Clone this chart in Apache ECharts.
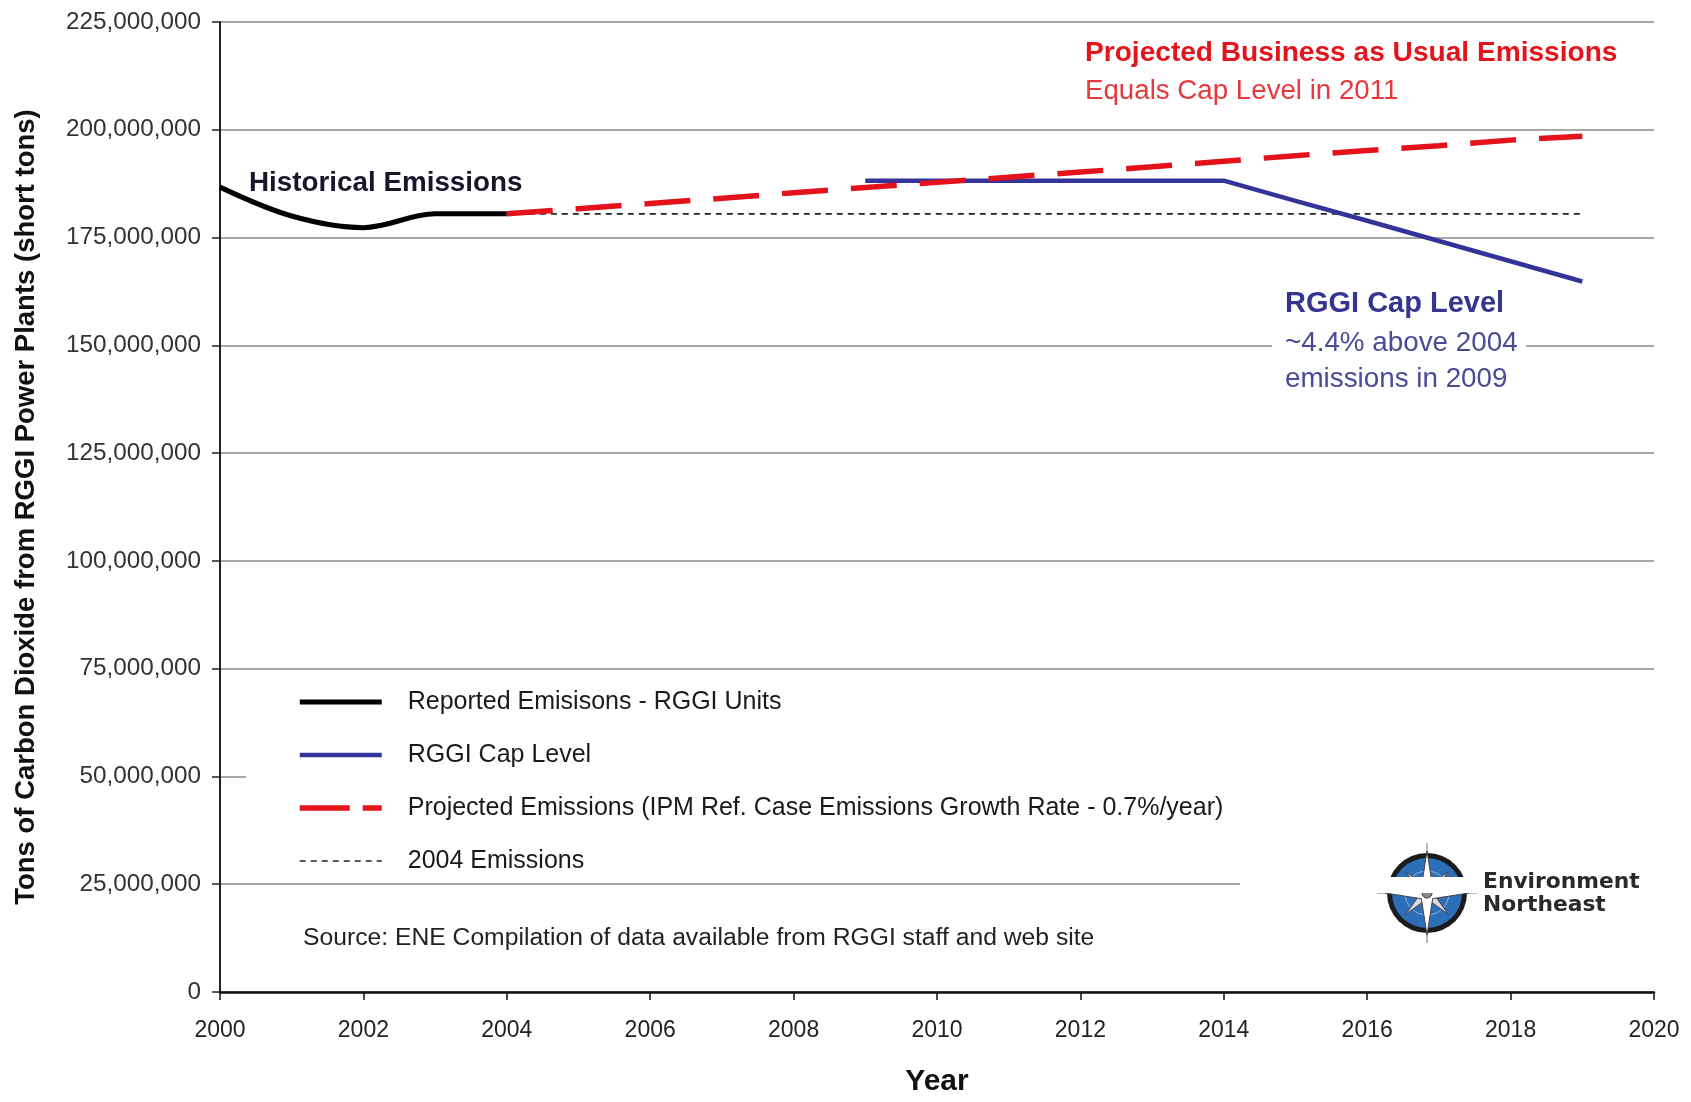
<!DOCTYPE html>
<html>
<head>
<meta charset="utf-8">
<script src="https://cdn.jsdelivr.net/npm/echarts@6/dist/echarts.min.js"></script>
<style>
  html, body { margin: 0; padding: 0; background: #ffffff; }
  #chart { width: 1691px; height: 1102px; }
</style>
</head>
<body>
<div id="chart"></div>
<script>
// ---- Data (million short tons of CO2) ----
const historicalYears = [2000, 2001, 2002, 2003, 2004];
const historicalValues = [186.7, 180.0, 177.3, 180.5, 180.5];

const capYears = [2009, 2010, 2011, 2012, 2013, 2014, 2015, 2016, 2017, 2018, 2019];
const capValues = [188.2, 188.2, 188.2, 188.2, 188.2, 188.2, 183.5, 178.9, 174.2, 169.5, 164.8];

const projYears = [2004, 2005, 2006, 2007, 2008, 2009, 2010, 2011, 2012, 2013, 2014, 2015, 2016, 2017, 2018, 2019];
const projValues = [180.5, 181.7, 182.9, 184.1, 185.4, 186.6, 187.8, 189.0, 190.2, 191.4, 192.7, 194.0, 195.2, 196.3, 197.6, 198.5];

const baseYears = [2004, 2019];
const baseValues = [180.5, 180.5];

const seriesNames = [
  'Reported Emisisons - RGGI Units',
  'RGGI Cap Level',
  'Projected Emissions (IPM Ref. Case Emissions Growth Rate - 0.7%/year)',
  '2004 Emissions'
];

const yTicks = { min: 0, max: 225000000, interval: 25000000 };
const xTicks = { min: 2000, max: 2020, interval: 2 };

const toPairs = (xs, ys) => xs.map((x, i) => [x, ys[i] * 1e6]);
const commas = v => String(Math.round(v)).replace(/\B(?=(\d{3})+(?!\d))/g, ',');

const FONT = '"Liberation Sans", Arial, sans-serif';

// compass star helper (logo decoration)
function starPoints(n, R, r, rot) {
  const pts = [];
  for (let i = 0; i < 2 * n; i++) {
    const a = rot + i * Math.PI / n;
    const rad = i % 2 === 0 ? R : r;
    pts.push([Math.sin(a) * rad, -Math.cos(a) * rad]);
  }
  return pts;
}

const chart = echarts.init(document.getElementById('chart'), null, { renderer: 'canvas' });

const hidden = { opacity: 0 };

const option = {
  animation: false,
  backgroundColor: '#ffffff',
  textStyle: { fontFamily: FONT },
  grid: { left: 220, right: 37, top: 22, bottom: 109, containLabel: false },
  xAxis: {
    type: 'value',
    min: xTicks.min, max: xTicks.max, interval: xTicks.interval,
    name: 'Year',
    nameLocation: 'middle',
    nameGap: 75,
    nameTextStyle: { fontFamily: FONT, fontSize: 30, fontWeight: 'bold', color: '#111' },
    axisLine: { show: true, onZero: false, lineStyle: { color: '#111', width: 2.5 } },
    axisTick: { show: true, inside: false, length: 8, lineStyle: { color: '#111', width: 1.5 } },
    axisLabel: { margin: 27, fontSize: 23, color: '#222', fontFamily: FONT, formatter: v => String(v) },
    splitLine: { show: false }
  },
  yAxis: {
    type: 'value',
    min: yTicks.min, max: yTicks.max, interval: yTicks.interval,
    name: 'Tons of Carbon Dioxide from RGGI Power Plants (short tons)',
    nameLocation: 'middle',
    nameRotate: 90,
    nameGap: 180,
    nameTextStyle: { fontFamily: FONT, fontSize: 27.5, fontWeight: 'bold', color: '#111', padding: [0, 0, 0, 0] },
    axisLine: { show: true, lineStyle: { color: '#222', width: 2 } },
    axisTick: { show: true, inside: false, length: 8, lineStyle: { color: '#222', width: 1.5 } },
    axisLabel: { margin: 19, fontSize: 24.3, color: '#333', fontFamily: FONT, formatter: v => commas(v) },
    splitLine: { show: true, lineStyle: { color: '#8a8a8a', width: 1.5 } }
  },
  legend: {
    show: true,
    orient: 'vertical',
    left: 292,
    top: 683,
    itemWidth: 82,
    itemHeight: 20,
    itemGap: 25,
    selectedMode: false,
    textStyle: { fontFamily: FONT, fontSize: 25, color: '#1a1a1a', lineHeight: 28, padding: [0, 0, 0, 21] },
    data: [
      { name: seriesNames[0], itemStyle: hidden, lineStyle: { width: 5, color: '#000000' } },
      { name: seriesNames[1], itemStyle: hidden, lineStyle: { width: 4.5, color: '#333399' } },
      { name: seriesNames[2], itemStyle: hidden, lineStyle: { width: 5.5, color: '#E3121B', type: [50, 13] } },
      { name: seriesNames[3], itemStyle: hidden, lineStyle: { width: 1.6, color: '#222222', type: [6, 5] } }
    ]
  },
  series: [
    {
      name: seriesNames[0], type: 'line', data: toPairs(historicalYears, historicalValues),
      smooth: 0.35, symbol: 'none', z: 4,
      lineStyle: { color: '#000000', width: 5 }, itemStyle: { color: '#000000' }
    },
    {
      name: seriesNames[1], type: 'line', data: toPairs(capYears, capValues),
      symbol: 'none', z: 3,
      lineStyle: { color: '#333399', width: 4.5 }, itemStyle: { color: '#333399' }
    },
    {
      name: seriesNames[2], type: 'line', data: toPairs(projYears, projValues),
      symbol: 'none', z: 5,
      lineStyle: { color: '#E3121B', width: 5.5, type: [46, 23], cap: 'butt' }, itemStyle: { color: '#E3121B' }
    },
    {
      name: seriesNames[3], type: 'line', data: toPairs(baseYears, baseValues),
      symbol: 'none', z: 2,
      lineStyle: { color: '#222222', width: 1.6, type: [6, 5] }, itemStyle: { color: '#222222' }
    }
  ],
  graphic: [
    // white boxes masking gridlines (legend box, logo box, note box)
    { type: 'rect', z: 1, shape: { x: 246, y: 770, width: 1420, height: 15 }, style: { fill: '#ffffff' } },
    { type: 'rect', z: 1, shape: { x: 1240, y: 877, width: 420, height: 16 }, style: { fill: '#ffffff' } },
    { type: 'rect', z: 1, shape: { x: 1272, y: 336, width: 254, height: 19 }, style: { fill: '#ffffff' } },

    // annotations
    { type: 'text', z: 10, style: { text: 'Historical Emissions', x: 249, y: 183, font: 'bold 27.8px ' + FONT, fill: '#17172b', textAlign: 'left', textVerticalAlign: 'middle' } },
    { type: 'text', z: 10, style: { text: 'Projected Business as Usual Emissions', x: 1085, y: 53, font: 'bold 28.1px ' + FONT, fill: '#E3141B', textAlign: 'left', textVerticalAlign: 'middle' } },
    { type: 'text', z: 10, style: { text: 'Equals Cap Level in 2011', x: 1085, y: 91, font: '27.7px ' + FONT, fill: '#E6393E', textAlign: 'left', textVerticalAlign: 'middle' } },
    { type: 'text', z: 10, style: { text: 'RGGI Cap Level', x: 1285, y: 304, font: 'bold 29px ' + FONT, fill: '#35358f', textAlign: 'left', textVerticalAlign: 'middle' } },
    { type: 'text', z: 10, style: { text: '~4.4% above 2004', x: 1285, y: 343, font: '27.8px ' + FONT, fill: '#4a4a98', textAlign: 'left', textVerticalAlign: 'middle' } },
    { type: 'text', z: 10, style: { text: 'emissions in 2009', x: 1285, y: 379, font: '27.8px ' + FONT, fill: '#4a4a98', textAlign: 'left', textVerticalAlign: 'middle' } },
    { type: 'text', z: 10, style: { text: 'Source: ENE Compilation of data available from RGGI staff and web site', x: 303, y: 938, font: '24.7px ' + FONT, fill: '#222', textAlign: 'left', textVerticalAlign: 'middle' } },

    // Environment Northeast logo
    {
      type: 'group', x: 1427, y: 893, z: 10,
      children: [
        { type: 'circle', shape: { cx: 0, cy: 0, r: 40 }, style: { fill: '#1b1b1b' } },
        { type: 'circle', shape: { cx: 0, cy: 0, r: 35 }, style: { fill: '#2C6FB8' } },
        { type: 'circle', shape: { cx: 0, cy: 0, r: 22 }, style: { fill: 'none', stroke: '#8fb2dc', lineWidth: 1 } },
        { type: 'line', shape: { x1: -50, y1: 0, x2: 50, y2: 0 }, style: { stroke: '#777', lineWidth: 1 } },
        { type: 'line', shape: { x1: 0, y1: -50, x2: 0, y2: 50 }, style: { stroke: '#777', lineWidth: 1 } },
        { type: 'polygon', shape: { points: starPoints(4, 30, 6, Math.PI / 4) }, style: { fill: '#d9d9d9', stroke: '#444', lineWidth: 1 } },
        { type: 'polygon', shape: { points: starPoints(4, 42, 8, 0) }, style: { fill: '#ffffff', stroke: '#444', lineWidth: 1 } },
        { type: 'circle', shape: { cx: 0, cy: 0, r: 5 }, style: { fill: '#8a8a8a', stroke: '#333', lineWidth: 1 } }
      ]
    },
    { type: 'text', z: 10, style: { text: 'Environment', x: 1483, y: 882, font: 'bold 21.8px "DejaVu Sans", sans-serif', fill: '#2a2a2a', textAlign: 'left', textVerticalAlign: 'middle' } },
    { type: 'text', z: 10, style: { text: 'Northeast', x: 1483, y: 905, font: 'bold 21.8px "DejaVu Sans", sans-serif', fill: '#2a2a2a', textAlign: 'left', textVerticalAlign: 'middle' } }
  ]
};

chart.setOption(option);
</script>
</body>
</html>
